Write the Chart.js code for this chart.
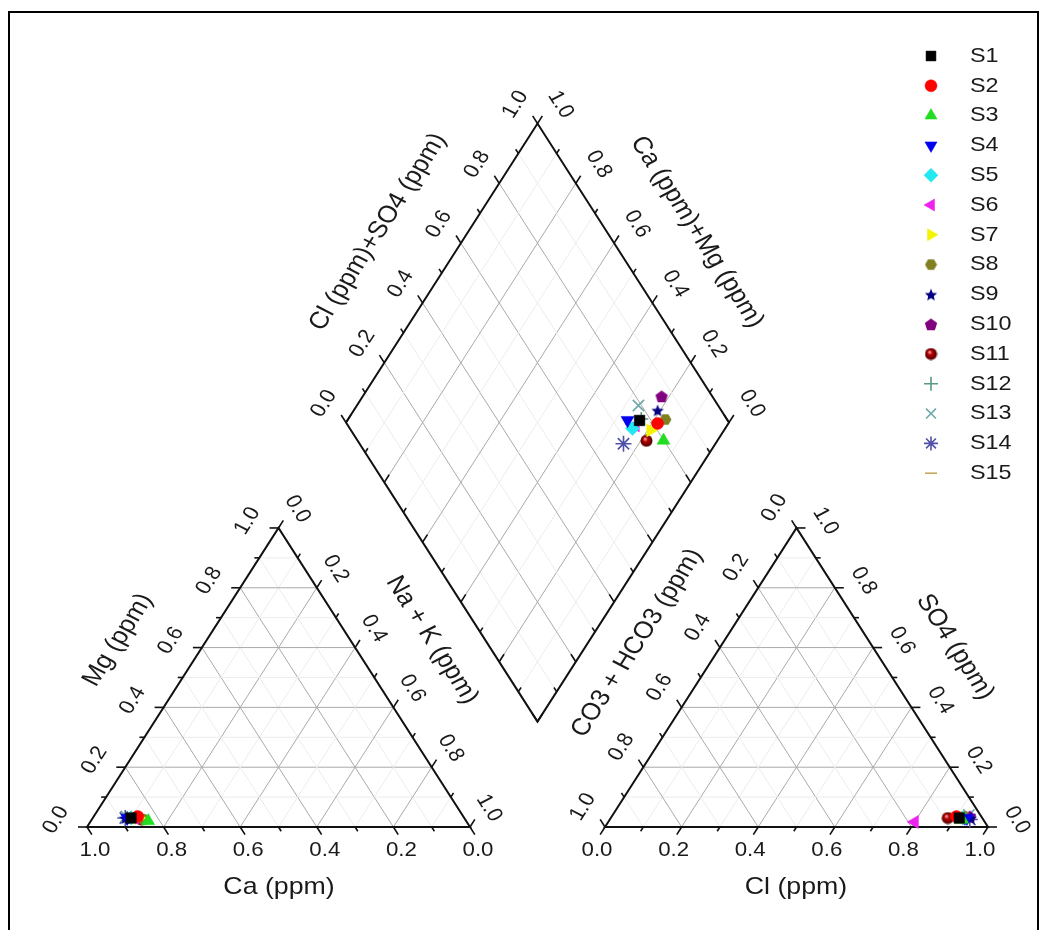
<!DOCTYPE html>
<html><head><meta charset="utf-8">
<script src="https://cdn.jsdelivr.net/npm/chart.js@4/dist/chart.umd.min.js"></script>
<style>
html,body{margin:0;padding:0;background:#fff;overflow:hidden;}
#wrap{position:relative;width:1042px;height:930px;overflow:hidden;}
#c{position:absolute;left:0;top:0;}
#frame{position:absolute;left:8px;top:11px;width:1031px;height:940px;border:2px solid #000;box-sizing:border-box;pointer-events:none;}
</style></head>
<body><div id="wrap"><canvas id="c" width="1042" height="930"></canvas><div id="frame"></div></div>
<script>
// ---------- data (fractions) ----------
const samples = ['S1','S2','S3','S4','S5','S6','S7','S8','S9','S10','S11','S12','S13','S14','S15'];
// cation triangle
const caFrac  = [0.87,0.85,0.83,0.88,0.87,0.86,0.85,0.84,0.885,0.855,0.845,0.88,0.88,0.885,0.86];
const mgFrac  = [0.03,0.035,0.02,0.03,0.03,0.03,0.03,0.025,0.03,0.035,0.025,0.03,0.035,0.03,0.03];
const naKFrac = [0.10,0.115,0.15,0.09,0.10,0.11,0.12,0.135,0.085,0.11,0.13,0.09,0.085,0.085,0.11];
// anion triangle
const clFrac   = [0.91,0.90,0.92,0.93,0.92,0.80,0.91,0.92,0.94,0.935,0.88,0.92,0.93,0.94,0.89];
const so4Frac  = [0.03,0.035,0.025,0.03,0.03,0.017,0.03,0.035,0.03,0.035,0.03,0.03,0.04,0.025,0.03];
const hco3Frac = [0.06,0.065,0.055,0.04,0.05,0.183,0.06,0.045,0.03,0.03,0.09,0.05,0.03,0.035,0.08];
// diamond (read on its own axes)
const dClSO4 = [0.770,0.812,0.799,0.739,0.738,0.751,0.782,0.839,0.834,0.868,0.754,0.777,0.792,0.689,0.810];
const dCaMg  = [0.237,0.185,0.141,0.269,0.242,0.239,0.192,0.171,0.207,0.220,0.185,0.235,0.265,0.240,0.190];
// tick labels
const tickValues = [0,0.2,0.4,0.6,0.8,1.0];
const tickLabels = ['0.0','0.2','0.4','0.6','0.8','1.0'];
const axisTitles = ['Ca (ppm)','Mg (ppm)','Na + K (ppm)','Cl (ppm)','CO3 + HCO3 (ppm)','SO4 (ppm)','Cl (ppm)+SO4 (ppm)','Ca (ppm)+Mg (ppm)'];

// ---------- geometry ----------
const H = Math.sqrt(3)/2, G = 0.3525;
const SX = 1.113; // horizontal text stretch of the original
const A = [[0,0],[0.5,H],[1,0]];            // Ca, Mg, Na+K vertices
const C = [[1+G,0],[1.5+G,H],[2+G,0]];      // HCO3, SO4, Cl vertices
const B = [1+G/2, G*H], L=[B[0]-0.5,B[1]+H], R=[B[0]+0.5,B[1]+H], T=[B[0],B[1]+2*H];
function bary(V,w){return [w[0]*V[0][0]+w[1]*V[1][0]+w[2]*V[2][0], w[0]*V[0][1]+w[1]*V[1][1]+w[2]*V[2][1]];}
function dia(a,c){return [B[0]+(a-c)*0.5, B[1]+(a+c)*H];}

// ---------- marker images ----------
function shapeCanvas(kind,color,size){
  const cv=document.createElement('canvas'); cv.width=cv.height=size;
  const g=cv.getContext('2d'); const cx=size/2, cy=size/2, r=size/2-0.5;
  g.beginPath();
  if(kind==='hex'){for(let k=0;k<6;k++){const a=k*Math.PI/3;g.lineTo(cx+r*Math.cos(a),cy+r*Math.sin(a));}}
  else if(kind==='pent'){for(let k=0;k<5;k++){const a=-Math.PI/2+k*2*Math.PI/5;g.lineTo(cx+r*Math.cos(a),cy+r*Math.sin(a)+0.8);}}
  else if(kind==='star'){for(let k=0;k<10;k++){const a=-Math.PI/2+k*Math.PI/5;const rr=k%2?r*0.45:r;g.lineTo(cx+rr*Math.cos(a),cy+rr*Math.sin(a)+0.8);}}
  else if(kind==='sphere'){g.arc(cx,cy,r,0,Math.PI*2);const gr=g.createRadialGradient(cx-1.5,cy-2,0.5,cx,cy,r);gr.addColorStop(0,'#ff9a9a');gr.addColorStop(0.35,'#b00000');gr.addColorStop(1,'#500000');g.fillStyle=gr;g.fill();return cv;}
  g.closePath(); g.fillStyle=color; g.fill();
  return cv;
}
const styles = [
  {ps:'rect', rot:0, col:'#000000', r:7.5},
  {ps:'circle', rot:0, col:'#ff0000', r:6},
  {ps:'triangle', rot:0, col:'#22dd22', r:7.5},
  {ps:'triangle', rot:180, col:'#0000ee', r:7.5},
  {ps:'rectRot', rot:0, col:'#22e8f0', r:7},
  {ps:'triangle', rot:-90, col:'#ee22ee', r:7.5},
  {ps:'triangle', rot:90, col:'#f4f400', r:7.5},
  {ps:shapeCanvas('hex','#808020',13), rot:0, col:'#808020', r:6.5},
  {ps:shapeCanvas('star','#000080',14), rot:0, col:'#000080', r:7},
  {ps:shapeCanvas('pent','#800080',14), rot:0, col:'#800080', r:7},
  {ps:shapeCanvas('sphere','#800000',13), rot:0, col:'#800000', r:6.5},
  {ps:'cross', rot:0, col:'#5a9a80', r:7},
  {ps:'crossRot', rot:0, col:'#70a8a8', r:8},
  {ps:'star', rot:0, col:'#5050a8', r:8},
  {ps:'line', rot:0, col:'#c8a860', r:6}
];

const datasets = samples.map((s,i)=>{
  const p1 = bary(A,[caFrac[i],mgFrac[i],naKFrac[i]]);
  const p2 = bary(C,[hco3Frac[i],so4Frac[i],clFrac[i]]);
  const p3 = dia(dClSO4[i], dCaMg[i]);
  const st = styles[i];
  return {label:s, data:[{x:p1[0],y:p1[1]},{x:p2[0],y:p2[1]},{x:p3[0],y:p3[1]}],
    pointStyle:st.ps, pointRotation:st.rot, pointRadius:st.r, pointHoverRadius:st.r,
    backgroundColor:st.col, borderColor:st.col, borderWidth:(typeof st.ps==='string' && ['cross','crossRot','star','line'].includes(st.ps))?1.6:0.5,
    showLine:false, clip:false};
});

// ---------- axes spec ----------
const axesSpec = [
  {p0:A[0],p1:A[2],v0:1,v1:0,dir:[0.5,-H],off:[8,23],rot:0,lab:true},
  {p0:A[0],p1:A[1],v0:0,v1:1,dir:[-1,0],off:[-31,-7],rot:-60,lab:true},
  {p0:A[1],p1:A[2],v0:0,v1:1,dir:[0.5,H],off:[19,-19],rot:60,lab:true},
  {p0:C[0],p1:C[2],v0:0,v1:1,dir:[-0.5,-H],off:[-8,23],rot:0,lab:true},
  {p0:C[1],p1:C[0],v0:0,v1:1,dir:[-0.5,H],off:[-22,-20],rot:-60,lab:true},
  {p0:C[1],p1:C[2],v0:1,v1:0,dir:[1,0],off:[29,-7],rot:60,lab:true},
  {p0:L,p1:T,v0:0,v1:1,dir:[-0.5,H],off:[-22,-19],rot:-60,lab:true},
  {p0:T,p1:R,v0:1,v1:0,dir:[0.5,H],off:[23,-19],rot:60,lab:true},
  {p0:B,p1:L,dir:[0.5,H],lab:false},
  {p0:B,p1:R,dir:[-0.5,H],lab:false}
];
const titleSpec = [
  {pos:[279,887],rot:0},{pos:[118,640],rot:-60},{pos:[432,640],rot:60},
  {pos:[796,887],rot:0},{pos:[637,643],rot:-60},{pos:[955,647],rot:60},
  {pos:[378,232],rot:-60},{pos:[697,232],rot:60}
];

const FONT = '"Liberation Sans", Arial, sans-serif';
function stretchedText(ctx,txt,x,y,rot,font,align){
  ctx.save(); ctx.translate(x,y); ctx.scale(SX,1); ctx.rotate(rot*Math.PI/180);
  ctx.font=font; ctx.textAlign=align||'center'; ctx.textBaseline='middle'; ctx.fillStyle='#1a1a1a';
  ctx.fillText(txt,0,0); ctx.restore();
}

const piperPlugin = {
  id:'piper',
  beforeDatasetsDraw(ch){
    const ctx=ch.ctx, xs=ch.scales.x, ys=ch.scales.y;
    const P=p=>[xs.getPixelForValue(p[0]), ys.getPixelForValue(p[1])];
    const kx=xs.getPixelForValue(1)-xs.getPixelForValue(0), ky=ys.getPixelForValue(0)-ys.getPixelForValue(1);
    const line=(a,b,col,w)=>{const pa=P(a),pb=P(b);ctx.beginPath();ctx.moveTo(pa[0],pa[1]);ctx.lineTo(pb[0],pb[1]);ctx.strokeStyle=col;ctx.lineWidth=w;ctx.stroke();};
    ctx.save();
    // grids
    for(let k=1;k<10;k++){
      const t=k/10, major=(k%2===0), col=major?'#a9a9a9':'#ececec', w=1;
      [A,C].forEach(V=>{
        for(let i=0;i<3;i++){
          const j=(i+1)%3, m=(i+2)%3;
          const w1=[0,0,0], w2=[0,0,0];
          w1[i]=t; w1[j]=1-t; w2[i]=t; w2[m]=1-t;
          line(bary(V,w1),bary(V,w2),col,w);
        }
      });
      line(dia(t,0),dia(t,1),col,w);
      line(dia(0,t),dia(1,t),col,w);
    }
    // frames
    ctx.lineJoin='miter';
    [[A[0],A[1],A[2]],[C[0],C[1],C[2]],[B,L,T,R]].forEach(poly=>{
      ctx.beginPath(); poly.forEach((p,i)=>{const q=P(p); i?ctx.lineTo(q[0],q[1]):ctx.moveTo(q[0],q[1]);});
      ctx.closePath(); ctx.strokeStyle='#111'; ctx.lineWidth=2; ctx.stroke();
    });
    // ticks and labels
    axesSpec.forEach(ax=>{
      let dx=ax.dir[0]*kx, dy=-ax.dir[1]*ky; const n=Math.hypot(dx,dy); dx/=n; dy/=n;
      for(let k=0;k<=10;k++){
        const s=k/10;
        const p=P([ax.p0[0]+(ax.p1[0]-ax.p0[0])*s, ax.p0[1]+(ax.p1[1]-ax.p0[1])*s]);
        const len=(k%2===0)?9:5;
        ctx.beginPath(); ctx.moveTo(p[0],p[1]); ctx.lineTo(p[0]+dx*len,p[1]+dy*len);
        ctx.strokeStyle='#111'; ctx.lineWidth=1.6; ctx.stroke();
        if(ax.lab && k%2===0){
          const v=ax.v0+(ax.v1-ax.v0)*s;
          const idx=tickValues.findIndex(tv=>Math.abs(tv-v)<1e-6);
          stretchedText(ctx,tickLabels[idx],p[0]+ax.off[0],p[1]+ax.off[1],ax.rot,'20px '+FONT);
        }
      }
    });
    // titles
    titleSpec.forEach((t,i)=>stretchedText(ctx,axisTitles[i],t.pos[0],t.pos[1],t.rot,'24px '+FONT));
    ctx.restore();
  },
  afterDraw(ch){
    const ctx=ch.ctx;
    const legX=931, legTX=970, legY0=56, legDY=29.8;
    ch.data.datasets.forEach((ds,i)=>{
      const y=legY0+i*legDY;
      ctx.save();
      ctx.fillStyle=ds.backgroundColor; ctx.strokeStyle=ds.borderColor; ctx.lineWidth=ds.borderWidth;
      const rr=Math.min(ds.pointRadius,7);
      if(Chart.helpers && Chart.helpers.drawPoint){
        Chart.helpers.drawPoint(ctx,{pointStyle:ds.pointStyle,rotation:ds.pointRotation,radius:rr,borderWidth:ds.borderWidth},legX,y);
      } else { ctx.beginPath(); ctx.arc(legX,y,5,0,Math.PI*2); ctx.fill(); }
      ctx.restore();
      stretchedText(ctx,ds.label,legTX,y,0,'21px '+FONT,'left');
    });
  }
};

new Chart(document.getElementById('c'),{
  type:'scatter',
  data:{datasets},
  options:{
    responsive:false, maintainAspectRatio:false, animation:false, devicePixelRatio:1,
    layout:{padding:0, autoPadding:false},
    plugins:{legend:{display:false},tooltip:{enabled:false}},
    scales:{
      x:{type:'linear',display:false,min:-87/383,max:-87/383+1042/383},
      y:{type:'linear',display:false,min:-(930-827)/345.3,max:-(930-827)/345.3+930/345.3}
    }
  },
  plugins:[piperPlugin]
});
</script>
</body></html>
